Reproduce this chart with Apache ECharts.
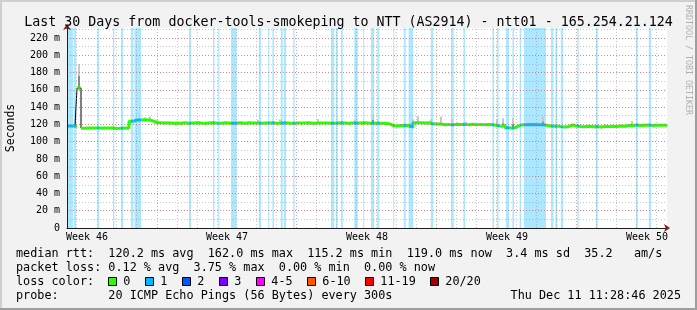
<!DOCTYPE html>
<html><head><meta charset="utf-8">
<script src="https://cdn.jsdelivr.net/npm/echarts@6/dist/echarts.min.js"></script>
<style>html,body{margin:0;padding:0;background:#f2f2f2}#c{width:697px;height:310px}</style>
</head><body><div id="c"></div><script>
// ---------------- data ----------------
const titleText = 'Last 30 Days from docker-tools-smokeping to NTT (AS2914) - ntt01 - 165.254.21.124';
const STEP_DAYS = 0.2; // RRD consolidation step shown (days)
// median rtt (ms) per step, from start of the 30-day window
const rtt = [
  118.0,118.2,117.8,162.0,115.6,115.8,115.7,115.9,115.8,115.9,
  115.8,115.9,115.2,115.6,115.8,115.7,123.5,125.2,125.0,125.3,
  125.0,124.0,122.0,121.8,121.5,121.8,121.3,121.6,121.2,121.8,
  121.4,121.7,121.9,121.5,121.2,121.6,122.0,121.5,121.4,121.8,
  121.6,121.3,121.7,121.9,121.4,121.8,121.5,121.6,121.3,121.7,
  121.5,121.8,121.4,121.6,121.9,121.5,121.3,121.7,121.5,121.6,
  121.8,121.4,121.6,121.5,121.7,121.6,121.3,121.5,121.8,121.6,
  121.4,121.7,121.5,121.6,121.8,121.5,121.3,121.6,121.4,121.2,
  120.8,118.8,118.2,118.6,118.3,118.9,116.8,121.8,122.0,121.7,
  121.9,120.6,120.3,120.5,119.5,120.0,119.4,120.2,119.8,120.0,
  119.6,120.1,119.7,120.0,119.5,119.8,119.6,118.8,117.8,118.4,
  116.0,115.8,117.0,119.3,119.5,119.6,119.8,119.6,119.7,119.4,
  118.3,117.8,118.2,117.4,116.9,117.6,119.3,118.0,117.6,117.3,
  117.8,117.2,117.5,117.0,117.6,117.4,117.9,117.5,118.0,117.8,
  118.6,118.8,119.2,118.7,119.0,119.2,118.8,119.0,118.9,119.0,119.0
];
// periods (days from window start) with 1/20 packet loss
const lossBands = [
  [0.03,0.30],[0.35,0.45],[1.52,1.60],[2.30,2.37],[2.70,2.80],[3.20,3.32],[3.37,3.70],
  [6.10,6.20],[7.30,7.37],[7.56,7.62],[8.20,8.48],[9.59,9.70],[10.06,10.12],[10.27,10.35],
  [10.69,10.79],[10.85,10.95],[11.31,11.38],[13.20,13.36],[13.44,13.54],[13.70,13.79],
  [14.36,14.54],[14.81,14.86],[15.20,15.36],[15.51,15.60],[16.31,16.36],[16.84,16.94],
  [17.08,17.31],[18.19,18.31],[19.20,19.34],[19.82,19.90],[21.27,21.35],[21.50,21.58],
  [21.95,22.10],[22.27,22.35],[22.63,22.71],[22.85,23.95],[24.20,24.32],[24.42,24.52],
  [24.69,24.80],[25.52,25.59],[26.45,26.54],[28.45,28.54],[29.09,29.20]
];
// smoke (ping spread) [day, low ms, high ms]
const smokeOuter = [
  [0.6,162,190],[3.9,125,128],[4.15,125,129],[4.5,122,125.5],[6.55,122,124],[9.55,121.5,125],
  [10.65,121.5,125.5],[12.55,121.5,126],[14.4,121.5,125],[15.3,121.5,129.5],[16.25,118.5,121],
  [16.9,118.5,122],[17.15,116,121],[17.3,121,125.5],[17.55,122,129],[18.2,120.5,126],
  [18.7,120.5,129],[19.25,119.5,126],[19.95,119.8,123],[21.5,118,125.5],[21.8,117,127],
  [22.3,116,127],[23.05,119.5,122.5],[23.8,119.5,129.5],[28.25,118.5,124]
];
const smokeCore = [
  [0.6,162,176],[15.3,121.5,125],[17.15,116,119],[21.8,117,121],[22.3,116,120],[23.8,119.5,123]
];
const weekLabelDays = [1, 8, 15, 22, 29];
const weekLabels = ['Week 46','Week 47','Week 48','Week 49','Week 50'];
const firstMidnightDay = 0.485;           // first day boundary after window start
const weekStartDays = [4.485, 11.485, 18.485, 25.485];
const rttStats = [120.2, 162.0, 115.2, 119.0]; // avg max min now
const rttSd = 3.4, amPerSec = 35.2;
const lossStats = [0.12, 3.75, 0.00, 0.00];   // avg max min now
const lossLabels = ['0','1','2','3','4-5','6-10','11-19','20/20'];
const lossColors = ['#26ff00','#00b8ff','#0059ff','#7e00ff','#ff00ff','#ff5500','#ff0000','#a00000'];
const probeText = '20 ICMP Echo Pings (56 Bytes) every 300s';
const stampText = 'Thu Dec 11 11:28:46 2025';

// ---------------- build ----------------
const FONT = 'DejaVu Sans Mono';
const Y_MAX = 231.6;
const times = rtt.map((_, i) => +(i * STEP_DAYS).toFixed(2));
const rttPts = rtt.map((v, i) => [times[i], v]);
const spikeLimit = 150;
const coloredPts = rtt.map((v, i) => [times[i], v > spikeLimit ? '-' : v]);
const spikePts = rttPts.filter(p => p[1] > spikeLimit);

const minorDays = [];
for (let d = firstMidnightDay; d < 30; d += 1) {
  if (!weekStartDays.some(w => Math.abs(w - d) < 0.01)) minorDays.push(+d.toFixed(3));
}
const GRID_MINOR = 'rgba(143,143,143,0.5)';
const GRID_MAJOR = 'rgba(222,79,79,0.55)';
const DASH = [1, 2];

function smokeSeries(data, color, z) {
  return {
    type: 'custom', data, z, silent: true, xAxisIndex: 0, yAxisIndex: 0,
    renderItem: (params, api) => {
      const a = api.coord([api.value(0), api.value(1)]);
      const b = api.coord([api.value(0), api.value(2)]);
      return { type: 'rect', shape: { x: a[0] - 1, y: b[1], width: 2, height: a[1] - b[1] }, style: { fill: color } };
    }
  };
}

const f1 = v => v.toFixed(1), f2 = v => v.toFixed(2);
const row1 = `median rtt:  ${f1(rttStats[0])} ms avg  ${f1(rttStats[1])} ms max  ${f1(rttStats[2])} ms min  ${f1(rttStats[3])} ms now  ${f1(rttSd)} ms sd  ${f1(amPerSec)}   am/s`;
const row2 = `packet loss: ${f2(lossStats[0])} % avg  ${f2(lossStats[1])} % max  ${f2(lossStats[2])} % min  ${f2(lossStats[3])} % now`;
const row4 = `probe:       ${probeText}`;
const LFS = 11.8, CW = 7.0;
const legendFont = { fontFamily: FONT, fontSize: LFS, fill: '#000', verticalAlign: 'middle' };
const graphics = [
  { type: 'rect', shape: { x: 0, y: 0, width: 697, height: 2 }, style: { fill: '#cfcfcf' }, silent: true },
  { type: 'rect', shape: { x: 0, y: 0, width: 2, height: 310 }, style: { fill: '#cfcfcf' }, silent: true },
  { type: 'rect', shape: { x: 695, y: 0, width: 2, height: 310 }, style: { fill: '#9e9e9e' }, silent: true },
  { type: 'rect', shape: { x: 0, y: 308, width: 697, height: 2 }, style: { fill: '#9e9e9e' }, silent: true },
  { type: 'text', x: 688, y: 60, rotation: -Math.PI / 2, silent: true,
    style: { text: 'RRDTOOL / TOBI OETIKER', fontFamily: FONT, fontSize: 8.3, fill: '#b0b0b0', align: 'center', verticalAlign: 'middle' } },
  { type: 'text', x: 16, y: 254, silent: true, style: Object.assign({ text: row1 }, legendFont) },
  { type: 'text', x: 16, y: 268, silent: true, style: Object.assign({ text: row2 }, legendFont) },
  { type: 'text', x: 16, y: 282, silent: true, style: Object.assign({ text: 'loss color:' }, legendFont) },
  { type: 'text', x: 16, y: 296, silent: true, style: Object.assign({ text: row4 }, legendFont) },
  { type: 'text', x: 681, y: 296, silent: true, style: Object.assign({ text: stampText, align: 'right' }, legendFont) }
];
let sx = 108.3;
lossLabels.forEach((lab, i) => {
  graphics.push({ type: 'rect', silent: true, shape: { x: Math.round(sx) + 0.5, y: 277.5, width: 8, height: 8 },
    style: { fill: lossColors[i], stroke: '#000', lineWidth: 1 } });
  graphics.push({ type: 'text', x: sx + 15, y: 282, silent: true, style: Object.assign({ text: lab }, legendFont) });
  sx += 30 + lab.length * CW;
});

const option = {
  animation: false,
  backgroundColor: '#f2f2f2',
  title: { text: titleText, left: 'center', top: 11,
    textStyle: { fontFamily: FONT, fontSize: 13.3, fontWeight: 'normal', color: '#000' } },
  grid: { left: 67, right: 30, top: 28, bottom: 82, show: true, backgroundColor: '#ffffff', borderWidth: 0,
    containLabel: false, outerBoundsMode: 'none' },
  xAxis: [
    { type: 'value', position: 'bottom', min: 0, max: 30,
      axisLine: { show: true, onZero: false, lineStyle: { color: '#1f1f1f', width: 1 } },
      axisTick: { show: false }, splitLine: { show: false },
      axisLabel: { customValues: weekLabelDays, formatter: v => weekLabels[weekLabelDays.indexOf(v)] || '',
        fontFamily: FONT, fontSize: 10, color: '#000', margin: 4 } },
    { type: 'value', position: 'bottom', min: 0, max: 30,
      axisLine: { show: true, onZero: false, symbol: ['none', 'arrow'], symbolSize: [6, 6], symbolOffset: [0, 3],
        lineStyle: { color: '#801f1f', width: 0 } },
      axisTick: { show: false }, axisLabel: { show: false }, splitLine: { show: false } }
  ],
  yAxis: [
    { type: 'value', position: 'left', min: 0, max: Y_MAX, interval: 20, z: 6,
      name: 'Seconds', nameLocation: 'middle', nameGap: 50, nameRotate: 90,
      nameTextStyle: { fontFamily: FONT, fontSize: 11.5, color: '#000' },
      axisLine: { show: true, onZero: false, lineStyle: { color: '#1f1f1f', width: 1 } },
      axisTick: { show: false },
      axisLabel: { formatter: v => (v % 20 === 0 ? (v === 0 ? '0' : v + ' m') : ''),
        fontFamily: FONT, fontSize: 10, color: '#000', margin: 7 },
      splitLine: { show: true, showMinLine: false, showMaxLine: false, lineStyle: { color: GRID_MAJOR, type: DASH, width: 1 } } },
    { type: 'value', position: 'left', min: 0, max: Y_MAX, interval: 10, z: 5,
      axisLine: { show: true, onZero: false, symbol: ['none', 'arrow'], symbolSize: [6, 6], symbolOffset: [0, 4],
        lineStyle: { color: '#801f1f', width: 0 } },
      axisTick: { show: false }, axisLabel: { show: false },
      splitLine: { show: true, showMinLine: false, showMaxLine: false, lineStyle: { color: GRID_MINOR, type: DASH, width: 1 } } }
  ],
  visualMap: {
    show: false, type: 'piecewise', dimension: 0, seriesIndex: 4,
    pieces: lossBands.map(([s, e]) => ({ gte: s, lte: e, color: lossColors[1] })),
    outOfRange: { color: lossColors[0] }
  },
  series: [
    { name: 'loss bg', type: 'line', data: [], z: 1, silent: true,
      markArea: { silent: true, itemStyle: { color: 'rgba(0,184,255,0.33)' },
        data: lossBands.map(([s, e]) => [{ xAxis: s }, { xAxis: e }]) } },
    smokeSeries(smokeOuter, '#c8c8c8', 2),
    smokeSeries(smokeCore, '#8a8a8a', 2),
    { name: 'median', type: 'line', data: rttPts, step: 'middle', symbol: 'none', z: 3, silent: true,
      lineStyle: { color: '#000', width: 1 } },
    { name: 'median loss', type: 'line', data: coloredPts, step: 'middle', symbol: 'none', z: 4, silent: true,
      connectNulls: false, lineStyle: { width: 3 } },
    { name: 'spike', type: 'scatter', data: spikePts, symbol: 'rect', symbolSize: [3, 4], z: 4, silent: true,
      itemStyle: { color: lossColors[0] } },
    { name: 'vgrid', type: 'line', data: [], z: 5, silent: true,
      markLine: { silent: true, symbol: ['none', 'none'], label: { show: false },
        data: minorDays.map(d => ({ xAxis: d, lineStyle: { color: GRID_MINOR, type: DASH, width: 1 } }))
          .concat(weekStartDays.map(d => ({ xAxis: d, lineStyle: { color: GRID_MAJOR, type: DASH, width: 1 } }))) } }
  ],
  graphic: graphics
};
const chart = echarts.init(document.getElementById('c'), null, { renderer: 'canvas' });
chart.setOption(option);
</script></body></html>
